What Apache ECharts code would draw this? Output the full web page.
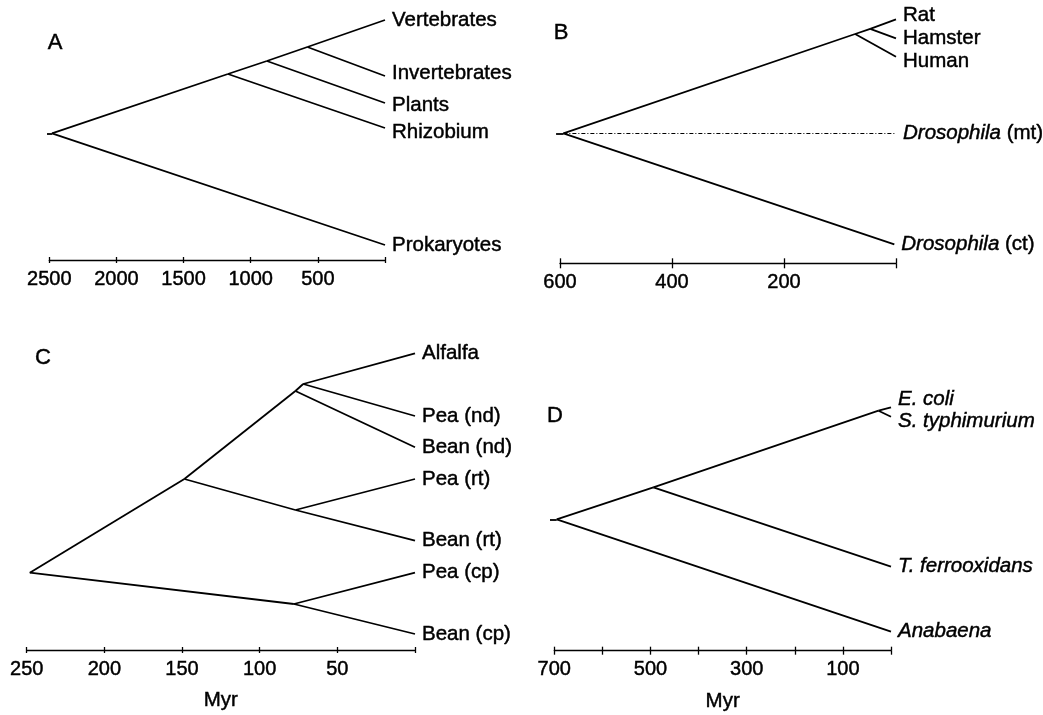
<!DOCTYPE html>
<html><head><meta charset="utf-8">
<script src="https://cdn.jsdelivr.net/npm/echarts@6/dist/echarts.min.js"></script>
<style>html,body{margin:0;padding:0;background:#fff}#c{width:1043px;height:715px}</style>
</head><body><div id="c"></div>
<script>
// ---------- DATA (time in Myr, height = vertical position above the time axis) ----------
// Panel A
const aNode   = ['stem','root','n1','n2','n3','Vertebrates','Invertebrates','Plants','Rhizobium','Prokaryotes'];
const aTime   = [2517, 2480, 1170, 880, 578, 0, 0, 0, 0, 0];
const aHeight = [126.7, 126.7, 186, 199, 213, 240, 184, 157, 132, 15];
const aParent = [null,'stem','root','n1','n2','n3','n3','n2','n1','root'];
const aTicks  = [2500, 2000, 1500, 1000, 500];

// Panel B
const bNode   = ['stem','root','h1','h2','Rat','Hamster','Human','Drosophila (mt)','Drosophila (ct)'];
const bTime   = [607, 594, 73, 46, 0, 0, 0, 0, 3];
const bHeight = [130, 130, 229.3, 234.5, 244, 225, 206.6, 130, 19];
const bParent = [null,'stem','root','h1','h2','h2','h1','root','root'];
const bTicks  = [600, 400, 200];

// Panel C
const cNode   = ['root','P','Q','R','Alfalfa','Pea (nd)','Bean (nd)','S','Pea (rt)','Bean (rt)','T','Pea (cp)','Bean (cp)'];
const cTime   = [248, 148.5, 77, 72, 0, 0, 0, 77, 0, 0, 78, 0, 0];
const cHeight = [77.3, 171, 259, 266, 296.7, 234, 202.7, 140, 171, 109.3, 46, 77.3, 16];
const cParent = [null,'root','P','Q','R','R','Q','P','S','S','root','T','T'];
const cTicks  = [250, 200, 150, 100, 50];

// Panel D
const dNode   = ['stem','root','N1','N2','E. coli','S. typhimurium','T. ferrooxidans','Anabaena'];
const dTime   = [709, 695, 494, 26, 0, 0, 0, 0];
const dHeight = [131.4, 131.4, 163.4, 240, 243.4, 234, 84, 19];
const dParent = [null,'stem','root','N1','N2','N2','N1','root'];
const dTicks  = [700, 500, 300, 100];

// ---------- STYLE ----------
const FONT = 'Liberation Sans, Arial, Helvetica, sans-serif';
const FS = 20.5;
const INK = {textBorderColor:'#000', textBorderWidth:0.45};
const dashedEdges = {'Drosophila (mt)': true};
const labelNudge = {'Rat': -4, 'Human': 5, 'E. coli': -8, 'S. typhimurium': 5,
                    'Invertebrates': -3, 'Plants': 2, 'Rhizobium': 4};
const italicAll = {3: true};

const panels = [
  {node:aNode,time:aTime,height:aHeight,parent:aParent,ticks:aTicks,max:2500,interval:500,
   grid:{left:49.3,top:10,width:335.7,height:250},ymax:250,tick:3,name:''},
  {node:bNode,time:bTime,height:bHeight,parent:bParent,ticks:bTicks,max:600,interval:200,
   grid:{left:560,top:13.3,width:336,height:250},ymax:250,tick:5,name:''},
  {node:cNode,time:cTime,height:cHeight,parent:cParent,ticks:cTicks,max:250,interval:50,
   grid:{left:26.7,top:330,width:388.3,height:320},ymax:320,tick:3,name:'Myr'},
  {node:dNode,time:dTime,height:dHeight,parent:dParent,ticks:dTicks,max:700,interval:100,
   grid:{left:554.3,top:390.7,width:336.7,height:260},ymax:260,tick:4,name:'Myr'}
];

const grids = [], xAxes = [], yAxes = [], series = [];
panels.forEach((p, i) => {
  grids.push(Object.assign({containLabel:false}, p.grid));
  const tickSet = new Set(p.ticks);
  xAxes.push({
    type:'value', gridIndex:i, inverse:true, min:0, max:p.max, interval:p.interval, position:'bottom',
    axisLine:{show:true, lineStyle:{color:'#000', width:1.3}},
    axisTick:{show:true, inside:false, length:p.tick, lineStyle:{color:'#000', width:1.3}},
    splitLine:{show:false},
    axisLabel:Object.assign({show:true, margin:9, color:'#000', fontFamily:FONT, fontSize:20,
      formatter: v => tickSet.has(v) ? String(v) : ''}, INK),
    name:p.name, nameLocation:'middle', nameGap:40,
    nameTextStyle:Object.assign({color:'#000', fontFamily:FONT, fontSize:FS}, INK)
  });
  yAxes.push({type:'value', gridIndex:i, min:0, max:p.ymax, show:false});
});
// inward half of the ticks
panels.forEach((p, i) => {
  xAxes.push({
    type:'value', gridIndex:i, inverse:true, min:0, max:p.max, interval:p.interval, position:'bottom', offset:0,
    axisLine:{show:false}, splitLine:{show:false}, axisLabel:{show:false},
    axisTick:{show:true, inside:true, length:p.tick, lineStyle:{color:'#000', width:1.3}}
  });
});

function fmtName(name, panelIdx) {
  if (italicAll[panelIdx]) return '{i|' + name + '}';
  if (name.indexOf('Drosophila') === 0) return '{i|Drosophila}' + name.slice(10);
  return name;
}

panels.forEach((p, i) => {
  const idx = {};
  p.node.forEach((n, k) => idx[n] = k);
  const edges = [];
  p.node.forEach((n, k) => {
    const par = p.parent[k];
    if (par === null) return;
    const j = idx[par];
    const item = {coords:[[p.time[j], p.height[j]], [p.time[k], p.height[k]]]};
    if (dashedEdges[n]) item.lineStyle = {type:[4,2,1,2], width:1.2};
    edges.push(item);
  });
  series.push({
    type:'lines', coordinateSystem:'cartesian2d', xAxisIndex:i, yAxisIndex:i,
    clip:false, silent:true, animation:false,
    lineStyle:{color:'#000', width:1.8, opacity:1, curveness:0},
    data:edges
  });
  const children = new Set(p.parent.filter(x => x !== null));
  const leaves = [];
  p.node.forEach((n, k) => {
    if (children.has(n)) return;
    leaves.push({name:n, value:[p.time[k], p.height[k]],
      label:{offset:[0, labelNudge[n] || 0]}});
  });
  series.push({
    type:'scatter', xAxisIndex:i, yAxisIndex:i, symbolSize:0, silent:true, animation:false, clip:false,
    itemStyle:{color:'#000', opacity:1},
    data:leaves,
    label:Object.assign({show:true, position:'right', distance:7, color:'#000', fontFamily:FONT, fontSize:FS,
      formatter: prm => fmtName(prm.name, i),
      rich:{i:Object.assign({fontStyle:'italic', fontFamily:FONT, fontSize:FS, color:'#000'}, INK)}}, INK)
  });
});

const letters = [['A',55,43],['B',561,33],['C',43,358],['D',555,416]];
const chart = echarts.init(document.getElementById('c'), null, {renderer:'canvas'});
chart.setOption({
  backgroundColor:'#fff',
  animation:false,
  grid:grids, xAxis:xAxes, yAxis:yAxes, series:series,
  graphic: letters.map(l => ({type:'text', x:l[1], y:l[2],
    style:{text:l[0], fill:'#000', fontFamily:FONT, fontSize:22, align:'center', verticalAlign:'middle',
      stroke:'#000', lineWidth:0.45}}))
});
</script></body></html>
